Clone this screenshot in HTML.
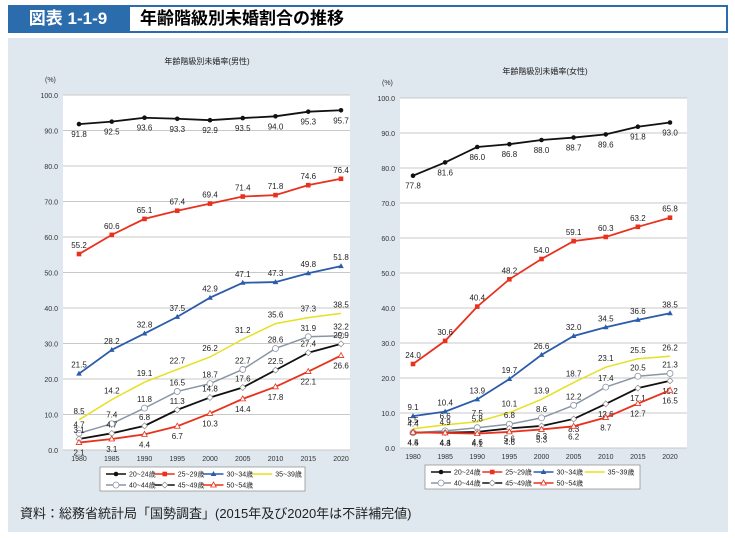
<!DOCTYPE html>
<html><head><meta charset="utf-8">
<style>
body{margin:0;width:735px;height:539px;background:#fff;font-family:"Liberation Sans","Noto Sans CJK JP",sans-serif;overflow:hidden;position:relative}
#hdr{position:absolute;left:8px;top:5px;width:720px;height:28px;background:#2b6cad}
#tag{position:absolute;left:8px;top:5px;width:120px;height:28px;color:#fff;font-size:17px;font-weight:bold;line-height:28px;text-align:center}
#ttl{position:absolute;left:130px;top:7px;width:596px;height:24px;background:#fff;font-size:17px;font-weight:bold;line-height:24px;padding-left:10px;box-sizing:border-box}
#panel{position:absolute;left:8px;top:38px;width:720px;height:494px;background:#dfe8ef}
#src{position:absolute;left:20px;top:503px;font-size:13px;color:#222}
svg{position:absolute;left:0;top:0}
</style></head><body>
<div id="hdr"></div>
<div id="tag">図表 1-1-9</div>
<div id="ttl">年齢階級別未婚割合の推移</div>
<div id="panel"></div>
<div id="src">資料：総務省統計局「国勢調査」(2015年及び2020年は不詳補完値)</div>
<svg id="chart" width="735" height="539"></svg>
<script>
const years=["1980","1985","1990","1995","2000","2005","2010","2015","2020"];
const seriesNames=["20~24歳","25~29歳","30~34歳","35~39歳","40~44歳","45~49歳","50~54歳"];
const yTicks=[0,10,20,30,40,50,60,70,80,90,100];
const male0=[91.8,92.5,93.6,93.3,92.9,93.5,94.0,95.3,95.7];
const male1=[55.2,60.6,65.1,67.4,69.4,71.4,71.8,74.6,76.4];
const male2=[21.5,28.2,32.8,37.5,42.9,47.1,47.3,49.8,51.8];
const male3=[8.5,14.2,19.1,22.7,26.2,31.2,35.6,37.3,38.5];
const male4=[4.7,7.4,11.8,16.5,18.7,22.7,28.6,31.9,32.2];
const male5=[3.1,4.7,6.8,11.3,14.8,17.6,22.5,27.4,29.9];
const male6=[2.1,3.1,4.4,6.7,10.3,14.4,17.8,22.1,26.6];
const fem0=[77.8,81.6,86.0,86.8,88.0,88.7,89.6,91.8,93.0];
const fem1=[24.0,30.6,40.4,48.2,54.0,59.1,60.3,63.2,65.8];
const fem2=[9.1,10.4,13.9,19.7,26.6,32.0,34.5,36.6,38.5];
const fem3=[5.5,6.6,7.5,10.1,13.9,18.7,23.1,25.5,26.2];
const fem4=[4.4,4.9,5.8,6.8,8.6,12.2,17.4,20.5,21.3];
const fem5=[4.4,4.4,4.6,5.6,6.3,8.3,12.6,17.1,19.2];
const fem6=[4.5,4.3,4.1,4.6,5.3,6.2,8.7,12.7,16.5];

const colors=["#111","#e8321e","#2a5caa","#e6e020","#8a96a6","#111","#e8321e"];
const markers=["dot","square","tri","none","circle","diamond","tri2"];
const NS="http://www.w3.org/2000/svg";
const svg=document.getElementById('chart');
function mk(tag,attrs,parent){const e=document.createElementNS(NS,tag);for(const k in attrs)e.setAttribute(k,attrs[k]);(parent||svg).appendChild(e);return e;}

function drawChart(cfg){
  const g=mk('g',{});
  
  
  const {L,R,T,B}=cfg;
  const y=v=>B-(v/100)*(B-T);
  const x=i=>cfg.x0+i*(cfg.x1-cfg.x0)/(years.length-1);
  const pa=mk('rect',{x:L,y:T,width:R-L,height:B-T,fill:'#fff'},g);
  
  
  yTicks.forEach(v=>{
    const gl=mk('line',{x1:L,x2:R,y1:y(v),y2:y(v),stroke:'#c8c8c8','stroke-width':1},g);
    
    
    const t=mk('text',{x:L-5,y:y(v)+3,'font-size':7,'text-anchor':'end',fill:'#333'},g);
    t.textContent=v.toFixed(1);
    
    
  });
  years.forEach((yr,i)=>{
    const t=mk('text',{x:x(i),y:B+11,'font-size':7,'text-anchor':'middle',fill:'#333'},g);
    t.textContent=yr;
    
    
  });
  const ti=mk('text',{x:cfg.tx,y:cfg.ty,'font-size':8,'text-anchor':'middle',fill:'#222'},g);
  ti.textContent=cfg.title;
  
  
  const u=mk('text',{x:L-18,y:T-13,'font-size':7,fill:'#333'},g);
  u.textContent='(%)';
  
  
  cfg.series.forEach((vals,s)=>{
    const pts=vals.map((v,i)=>x(i)+','+y(v)).join(' ');
    const pl=mk('polyline',{points:pts,fill:'none',stroke:colors[s],'stroke-width':s==3||s==4?1.5:1.8},g);
    
    
    vals.forEach((v,i)=>{
      drawMarker(g,markers[s],x(i),y(v),colors[s]);
      const below=cfg.below[s];
      const lb=mk('text',{x:x(i),y:below?y(v)+13:y(v)-6,'font-size':8,'text-anchor':'middle',fill:'#222'},g);
      lb.textContent=v.toFixed(1);
      
      
    });
  });
  const lg=mk('g',{},g);
  
  
  mk('rect',{x:cfg.lx,y:cfg.ly,width:cfg.lw,height:24,fill:'#fff',stroke:'#888','stroke-width':0.7},lg);
  seriesNames.forEach((n,s)=>{
    const col=s%4,row=Math.floor(s/4);
    const ex=cfg.lx+6+col*(cfg.lw-10)/4, ey=cfg.ly+7+row*11;
    const e=mk('g',{},lg);
    
    
    mk('line',{x1:ex,x2:ex+20,y1:ey,y2:ey,stroke:colors[s],'stroke-width':1.6},e);
    drawMarker(e,markers[s],ex+10,ey,colors[s]);
    const t=mk('text',{x:ex+23,y:ey+2.5,'font-size':7,fill:'#222'},e);
    t.textContent=n;
  });
}
function drawMarker(g,m,cx,cy,c){
  if(m=='dot')mk('circle',{cx,cy,r:2.3,fill:c},g);
  else if(m=='square')mk('rect',{x:cx-2.3,y:cy-2.3,width:4.6,height:4.6,fill:c},g);
  else if(m=='tri')mk('polygon',{points:`${cx},${cy-3} ${cx-2.8},${cy+2} ${cx+2.8},${cy+2}`,fill:c},g);
  else if(m=='circle')mk('circle',{cx,cy,r:3,fill:'#fff',stroke:c,'stroke-width':0.8},g);
  else if(m=='diamond')mk('polygon',{points:`${cx},${cy-3} ${cx+3},${cy} ${cx},${cy+3} ${cx-3},${cy}`,fill:'#fff',stroke:'#888','stroke-width':0.7},g);
  else if(m=='tri2')mk('polygon',{points:`${cx},${cy-3} ${cx-2.8},${cy+2} ${cx+2.8},${cy+2}`,fill:'#fff',stroke:c,'stroke-width':0.8},g);
}
drawChart({name:'male-chart',title:'年齢階級別未婚率(男性)',tx:207,ty:64,L:63,R:350,T:95,B:450,x0:79,x1:341,
  series:[male0,male1,male2,male3,male4,male5,male6],below:[true,false,false,false,false,false,true],
  lx:100,ly:467,lw:205});
drawChart({name:'female-chart',title:'年齢階級別未婚率(女性)',tx:545,ty:74,L:400,R:687,T:98,B:448,x0:413,x1:670,
  series:[fem0,fem1,fem2,fem3,fem4,fem5,fem6],below:[true,false,false,false,false,true,true],
  lx:425,ly:465,lw:215});
</script>
</body></html>
